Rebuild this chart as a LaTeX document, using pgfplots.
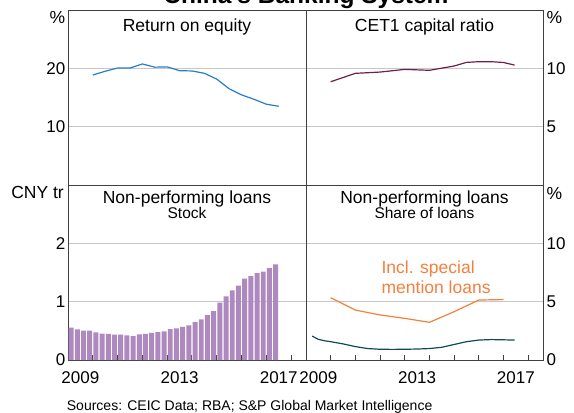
\documentclass[border=0pt]{standalone}
\usepackage{fontspec}
\setmainfont{Liberation Sans}
\usepackage{pgfplots}
\pgfplotsset{compat=1.18}

\definecolor{roe}{HTML}{2A7CC7}
\definecolor{cet}{HTML}{6E1F4E}
\definecolor{npl}{HTML}{AD89BF}
\definecolor{sml}{HTML}{F5803E}
\definecolor{share}{HTML}{12485A}
\definecolor{frame}{HTML}{404040}

\newcommand\ttl{\fontsize{17.5}{19}\selectfont}
\newcommand\sub{\fontsize{15.5}{17}\selectfont}

\pgfplotsset{
  panel/.style={
    scale only axis, width=237.5pt, height=175pt, anchor=south west,
    xmin=2009, xmax=2018.6,
    axis line style={draw=frame, line width=0.9pt},
    ymajorgrids, grid style={draw=black!22, line width=0.9pt},
    ytick style={draw=none},
    tick label style={font=\fontsize{17}{17}\selectfont},
    /pgf/number format/assume math mode=true,
    /pgf/number format/1000 sep={},
  },
  leftlab/.style={yticklabel style={anchor=east, inner sep=0pt, xshift=-2.5pt}},
  rightlab/.style={yticklabel pos=right, yticklabel style={anchor=west, inner sep=0pt, xshift=3.5pt}},
  years/.style={
    xtick={2010,...,2018}, xticklabels={}, xtick pos=left, tick align=inside,
    xtick style={draw=frame, line width=0.9pt}, major tick length=5pt,
    extra x ticks={2009.5,2013.5,2017.5}, extra x tick labels={2009,2013,2017},
    extra x tick style={major tick length=0pt},
    xticklabel style={inner sep=0pt, yshift=-11.5pt},
  },
}

\begin{document}
\begin{tikzpicture}
\useasboundingbox (0,0) rectangle (574pt,413pt);

% top left
\begin{axis}[panel, leftlab, at={(68pt,228pt)}, width=238pt,
  ymin=0, ymax=30, ytick={10,20}, xtick=\empty]
  \addplot[roe, line width=1.2pt] coordinates {
    (2010,18.85) (2010.5,19.5) (2011,20.05) (2011.5,20.05) (2012,20.75)
    (2012.5,20.2) (2013,20.25) (2013.5,19.6) (2014,19.55) (2014.5,19.15)
    (2015,18.15) (2015.5,16.5) (2016,15.45) (2016.5,14.7) (2017,13.85) (2017.5,13.5)};
  \node[font=\ttl, anchor=base, yshift=-21.8pt] at (rel axis cs:0.5,1) {Return on equity};
\end{axis}

% top right
\begin{axis}[panel, rightlab, at={(306pt,228pt)}, width=237pt,
  ymin=0, ymax=15, ytick={5,10}, xtick=\empty]
  \addplot[cet, line width=1.2pt] coordinates {
    (2010,8.85) (2011,9.57) (2012,9.68) (2013,9.91) (2014,9.83) (2015,10.2)
    (2015.5,10.51) (2016,10.57) (2016.5,10.57) (2017,10.5) (2017.45,10.28)};
  \node[font=\ttl, anchor=base, yshift=-21.8pt] at (rel axis cs:0.5,1) {CET1 capital ratio};
\end{axis}

% bottom left
\begin{axis}[panel, leftlab, years, at={(68pt,53pt)}, width=238pt,
  ymin=0, ymax=3, ytick={0,1,2}]
  \addplot[ybar, bar width=0.2, fill=npl, draw=none] coordinates {
    (2009.125,0.554) (2009.375,0.525) (2009.625,0.503) (2009.875,0.503)
    (2010.125,0.474) (2010.375,0.451) (2010.625,0.446) (2010.875,0.434)
    (2011.125,0.434) (2011.375,0.423) (2011.625,0.411) (2011.875,0.440)
    (2012.125,0.446) (2012.375,0.463) (2012.625,0.480) (2012.875,0.491)
    (2013.125,0.531) (2013.375,0.543) (2013.625,0.566) (2013.875,0.594)
    (2014.125,0.651) (2014.375,0.697) (2014.625,0.771) (2014.875,0.840)
    (2015.125,0.983) (2015.375,1.091) (2015.625,1.194) (2015.875,1.274)
    (2016.125,1.394) (2016.375,1.440) (2016.625,1.491) (2016.875,1.514)
    (2017.125,1.577) (2017.375,1.640)};
  \node[font=\ttl, anchor=base, yshift=-18.2pt] at (rel axis cs:0.5,1) {Non-performing loans};
  \node[font=\sub, anchor=base, yshift=-33.5pt] at (rel axis cs:0.5,1) {Stock};
\end{axis}

% bottom right
\begin{axis}[panel, rightlab, years, at={(306pt,53pt)}, width=237pt,
  ymin=0, ymax=15, ytick={0,5,10}]
  \addplot[sml, line width=1.2pt] coordinates {
    (2010,5.34) (2011,4.28) (2012,3.86) (2013,3.57) (2014,3.23)
    (2015,4.14) (2016,5.14) (2017,5.18)};
  \addplot[share, line width=1.2pt] coordinates {
    (2009.25,2.05) (2009.5,1.77) (2009.75,1.65) (2010,1.57) (2010.5,1.38)
    (2011,1.15) (2011.5,0.98) (2012,0.92) (2012.5,0.91) (2013,0.92)
    (2013.5,0.94) (2014,0.98) (2014.5,1.09) (2015,1.33) (2015.5,1.57)
    (2016,1.71) (2016.5,1.75) (2017,1.73) (2017.45,1.71)};
  \node[font=\ttl, anchor=base, yshift=-18.2pt] at (rel axis cs:0.5,1) {Non-performing loans};
  \node[font=\sub, anchor=base, yshift=-33.5pt] at (rel axis cs:0.5,1) {Share of loans};
  \node[font=\ttl, text=sml, anchor=base west] at (axis cs:2011.92,7.43) {Incl. special};
  \node[font=\ttl, text=sml, anchor=base west] at (axis cs:2011.92,5.66) {mention loans};
\end{axis}

% units, title, sources
\node[font=\ttl, anchor=base east, inner sep=0pt] at (65.5pt,389.7pt) {\%};
\node[font=\ttl, anchor=base west, inner sep=0pt] at (546.5pt,389.7pt) {\%};
\node[font=\ttl, anchor=base east, inner sep=0pt] at (64pt,214.7pt) {CNY tr};
\node[font=\ttl, anchor=base west, inner sep=0pt] at (546.5pt,213pt) {\%};
\node[font=\fontsize{24.5}{26}\selectfont\bfseries, anchor=base, inner sep=0pt] at (306pt,409pt) {China’s Banking System};
\node[font=\fontsize{14}{15}\selectfont, anchor=base west, inner sep=0pt] at (66.7pt,2.5pt) {Sources: CEIC Data; RBA; S\&P Global Market Intelligence};
\end{tikzpicture}
\end{document}
